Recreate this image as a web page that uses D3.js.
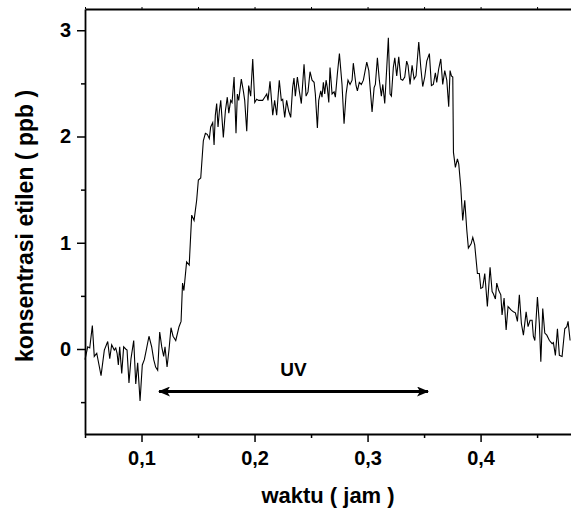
<!DOCTYPE html>
<html>
<head>
<meta charset="utf-8">
<script src="https://cdn.jsdelivr.net/npm/d3@7"></script>
<style>
    body { margin: 0; background: #fff; }
    svg text { font-family: "Liberation Sans", Arial, sans-serif; font-weight: bold; fill: #000; }
    .axis line, .axis path { stroke: #000; }
</style>
</head>
<body>
<svg id="chart" width="571" height="511"></svg>
<script>

// waktu (jam)
let waktu = [
    .0500,.0524,.0542,.0565,.0582,.0604,.0642,.0671,.0701,.0719,
    .0736,.0759,.0772,.0784,.0795,.0807,.0825,.0842,.0860,.0872,
    .0889,.0907,.0931,.0949,.0966,.0987,.1007,.1025,.1042,.1066,
    .1090,.1108,.1125,.1143,.1161,.1179,.1196,.1208,.1226,.1243,
    .1261,.1279,.1303,.1332,.1350,.1363,.1375,.1399,.1422,.1444,
    .1465,.1488,.1503,.1524,.1547,.1565,.1582,.1600,.1612,.1630,
    .1642,.1653,.1665,.1677,.1689,.1701,.1724,.1742,.1759,.1772,
    .1789,.1801,.1819,.1836,.1848,.1860,.1883,.1901,.1913,.1931,
    .1948,.1966,.1984,.2002,.2019,.2037,.2055,.2072,.2090,.2108,
    .2119,.2137,.2161,.2178,.2196,.2219,.2237,.2249,.2267,.2284,
    .2302,.2320,.2337,.2349,.2361,.2379,.2396,.2414,.2438,.2456,
    .2473,.2491,.2509,.2527,.2538,.2556,.2568,.2586,.2597,.2609,
    .2621,.2633,.2644,.2657,.2668,.2686,.2704,.2715,.2733,.2751,
    .2774,.2792,.2810,.2827,.2845,.2863,.2874,.2898,.2910,.2927,
    .2945,.2963,.2993,.3011,.3040,.3058,.3069,.3087,.3104,.3122,
    .3135,.3152,.3170,.3184,.3199,.3211,.3228,.3241,.3258,.3276,
    .3294,.3311,.3329,.3346,.3358,.3376,.3394,.3412,.3429,.3453,
    .3471,.3488,.3506,.3524,.3547,.3565,.3582,.3600,.3612,.3630,
    .3648,.3665,.3683,.3701,.3718,.3730,.3742,.3754,.3760,.3777,
    .3795,.3807,.3825,.3842,.3860,.3878,.3892,.3916,.3931,.3948,
    .3972,.3989,.4002,.4019,.4037,.4049,.4060,.4084,.4102,.4113,
    .4131,.4143,.4161,.4179,.4190,.4208,.4226,.4243,.4267,.4290,
    .4308,.4326,.4343,.4361,.4379,.4403,.4420,.4438,.4456,.4467,
    .4480,.4503,.4520,.4533,.4550,.4568,.4586,.4609,.4633,.4644,
    .4662,.4680,.4697,.4721,.4745,.4763,.4774,.4792
];

// konsentrasi etilen (ppb)
let etilen = [
    -0.10,0.02,0.01,0.22,-0.07,-0.04,-0.25,-0.01,0.07,-0.09,
    0.04,-0.01,0.01,-0.04,-0.15,0.02,-0.23,0.02,0.00,-0.01,
    -0.32,-0.09,0.08,-0.33,-0.13,-0.49,-0.15,-0.10,-0.01,0.12,
    0.02,-0.10,-0.17,-0.20,0.16,0.02,-0.07,0.02,-0.17,-0.01,
    0.20,0.12,0.08,0.21,0.26,0.62,0.55,0.82,0.79,1.26,
    1.21,1.40,1.59,1.61,1.96,2.03,2.02,1.98,2.09,2.13,
    1.92,2.20,2.31,2.09,2.24,2.34,1.99,2.24,2.37,2.22,
    2.34,2.32,2.56,2.03,2.40,2.34,2.54,2.43,2.34,2.05,
    2.48,2.38,2.73,2.32,2.35,2.34,2.34,2.34,2.37,2.40,
    2.34,2.52,2.20,2.34,2.20,2.53,2.34,2.35,2.18,2.34,
    2.24,2.18,2.46,2.55,2.38,2.56,2.43,2.31,2.68,2.38,
    2.42,2.61,2.53,2.51,2.40,2.08,2.34,2.43,2.37,2.51,
    2.40,2.53,2.46,2.32,2.65,2.40,2.42,2.37,2.59,2.78,
    2.49,2.12,2.40,2.53,2.49,2.53,2.69,2.48,2.43,2.51,
    2.49,2.53,2.70,2.62,2.23,2.46,2.49,2.74,2.53,2.38,
    2.49,2.31,2.65,2.93,2.40,2.38,2.65,2.74,2.57,2.75,
    2.54,2.53,2.56,2.71,2.67,2.49,2.67,2.54,2.57,2.89,
    2.65,2.47,2.56,2.71,2.78,2.48,2.49,2.60,2.51,2.64,
    2.73,2.49,2.62,2.53,2.28,2.62,2.57,2.56,1.85,1.71,
    1.79,1.74,1.52,1.21,1.40,1.12,0.95,0.99,1.05,0.98,
    0.71,0.71,0.57,0.58,0.71,0.55,0.40,0.77,0.54,0.52,
    0.47,0.62,0.55,0.51,0.32,0.48,0.18,0.40,0.37,0.35,
    0.34,0.26,0.51,0.24,0.13,0.35,0.21,0.27,0.27,0.12,
    0.08,0.49,0.24,-0.12,0.38,0.15,0.13,0.08,0.05,0.06,
    -0.06,0.19,-0.06,-0.07,0.19,0.21,0.26,0.08
];

let xMajor = [0.1, 0.2, 0.3, 0.4];
let xMinor = [0.05, 0.15, 0.25, 0.35, 0.45];
let yMajor = [0, 1, 2, 3];
let yMinor = [-0.5, 0.5, 1.5, 2.5];

// UV exposure period, drawn as a double arrow
let uvStart = 0.1155, uvEnd = 0.3535, uvLevel = -0.40;
let uvLabel = "UV";

let svg = d3.select("#chart");

let x = d3.scaleLinear().domain([0.05, 0.48]).range([85, 571]);
let y = d3.scaleLinear().domain([-0.8, 3.2]).range([434, 9]);

let comma = d3.formatLocale({decimal: ",", thousands: ".", grouping: [3], currency: ["", ""]}).format(".1f");

// bottom axis: major ticks labelled, minor ticks short
svg.append("g")
    .attr("class", "axis")
    .attr("transform", "translate(0,434)")
    .call(d3.axisBottom(x).tickValues(xMinor).tickSize(4).tickFormat(""))
    .call(function(g) { g.select(".domain").remove(); })
    .selectAll("line").attr("stroke-width", 1.5);

let xAxis = svg.append("g")
    .attr("class", "axis")
    .attr("transform", "translate(0,434)")
    .call(d3.axisBottom(x).tickValues(xMajor).tickSize(8).tickSizeOuter(0).tickPadding(9).tickFormat(comma));
xAxis.select(".domain").attr("stroke-width", 1.8);
xAxis.selectAll("line").attr("stroke-width", 1.5);
xAxis.selectAll("text").style("font-size", "20px").attr("dy", "0.72em");

// left axis
svg.append("g")
    .attr("class", "axis")
    .attr("transform", "translate(85,0)")
    .call(d3.axisLeft(y).tickValues(yMinor).tickSize(4).tickFormat(""))
    .call(function(g) { g.select(".domain").remove(); })
    .selectAll("line").attr("stroke-width", 1.5);

let yAxis = svg.append("g")
    .attr("class", "axis")
    .attr("transform", "translate(85,0)")
    .call(d3.axisLeft(y).tickValues(yMajor).tickSize(8).tickSizeOuter(0).tickPadding(6).tickFormat(d3.format("d")));
yAxis.select(".domain").attr("stroke-width", 1.8);
yAxis.selectAll("line").attr("stroke-width", 1.5);
yAxis.selectAll("text").style("font-size", "20px");

// top frame with small ticks
let topAxis = svg.append("g")
    .attr("class", "axis")
    .attr("transform", "translate(0,9)")
    .call(d3.axisTop(x).tickValues(xMajor.concat(xMinor)).tickSize(2).tickSizeOuter(0).tickFormat(""));
topAxis.select(".domain").attr("stroke-width", 1.8);

// the measured series
let points = waktu.map(function(t, i) { return [t, etilen[i]]; });
let line = d3.line()
    .x(function(d) { return x(d[0]); })
    .y(function(d) { return y(d[1]); });

svg.append("path")
    .datum(points)
    .attr("d", line)
    .attr("fill", "none")
    .attr("stroke", "#000")
    .attr("stroke-width", 1.1)
    .attr("stroke-linejoin", "miter");

// arrow heads
let defs = svg.append("defs");
defs.append("marker")
    .attr("id", "head")
    .attr("markerUnits", "userSpaceOnUse")
    .attr("viewBox", "0 0 12 10")
    .attr("refX", 11).attr("refY", 5)
    .attr("markerWidth", 12).attr("markerHeight", 10)
    .attr("orient", "auto-start-reverse")
    .append("path")
    .attr("d", "M0,0 L12,5 L0,10 L3,5 Z")
    .attr("fill", "#000");

svg.append("line")
    .attr("x1", x(uvStart)).attr("x2", x(uvEnd))
    .attr("y1", y(uvLevel)).attr("y2", y(uvLevel))
    .attr("stroke", "#000")
    .attr("stroke-width", 3)
    .attr("marker-start", "url(#head)")
    .attr("marker-end", "url(#head)");

svg.append("text")
    .attr("x", x((uvStart + uvEnd) / 2))
    .attr("y", y(uvLevel) - 16)
    .attr("text-anchor", "middle")
    .style("font-size", "19px")
    .text(uvLabel);

// axis titles
svg.append("text")
    .attr("x", 328)
    .attr("y", 503)
    .attr("text-anchor", "middle")
    .style("font-size", "22px")
    .text("waktu ( jam )");

svg.append("text")
    .attr("transform", "translate(33,226) rotate(-90)")
    .attr("text-anchor", "middle")
    .style("font-size", "23px")
    .text("konsentrasi etilen ( ppb )");

</script>
</body>
</html>
